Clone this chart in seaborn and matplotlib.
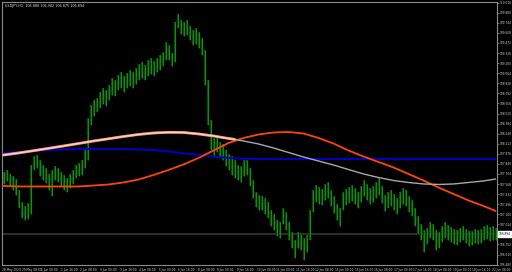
import numpy as np
import matplotlib
matplotlib.use("Agg")
import matplotlib.pyplot as plt
import matplotlib.transforms as mtransforms
import seaborn as sns

# ---------------- data ----------------
symbol = "USDJPY,H1"
ohlc_last = ["106.880", "106.902", "106.875", "106.894"]
last_price = 106.894

bar_high = [
    107.731, 107.758, 107.704, 107.677, 107.636, 107.488, 107.326, 107.272, 107.312, 107.825,
    107.947, 107.960, 107.893, 107.825, 107.785, 107.704, 107.758, 107.812, 107.785, 107.731,
    107.690, 107.650, 107.704, 107.758, 107.825, 107.852, 107.893, 108.028, 108.460, 108.635,
    108.703, 108.730, 108.811, 108.865, 108.838, 108.905, 109.000, 108.973, 109.040, 109.081,
    109.027, 109.067, 109.108, 109.081, 109.135, 109.189, 109.216, 109.175, 109.243, 109.270,
    109.229, 109.270, 109.310, 109.351, 109.486, 109.445, 109.337, 109.756, 109.864, 109.783,
    109.756, 109.783, 109.702, 109.648, 109.675, 109.621, 109.540, 109.378, 108.973, 108.433,
    108.190, 108.217, 108.136, 108.109, 108.028, 107.974, 107.947, 107.893, 107.825, 107.812,
    107.893, 107.893, 107.785, 107.623, 107.461, 107.420, 107.407, 107.380, 107.326, 107.218,
    107.164, 107.083, 107.056, 107.245, 107.191, 107.056, 106.921, 106.813, 106.921, 106.894,
    106.840, 106.880, 107.218, 107.488, 107.555, 107.528, 107.501, 107.569, 107.596, 107.488,
    107.407, 107.299, 107.245, 107.461, 107.501, 107.528, 107.555, 107.515, 107.461, 107.542,
    107.623, 107.569, 107.515, 107.542, 107.596, 107.650, 107.542, 107.420, 107.461, 107.488,
    107.434, 107.380, 107.461, 107.515, 107.488, 107.407, 107.353, 107.245, 107.137, 107.029,
    106.948, 106.975, 107.056, 107.029, 106.948, 106.921, 107.002, 107.056, 107.015, 106.988,
    106.961, 106.948, 106.975, 107.002, 106.961, 106.934, 106.934, 106.961, 106.948, 106.961,
    107.002, 107.015, 106.988, 107.002, 106.975,
]
bar_low = [
    107.569, 107.609, 107.542, 107.488, 107.420, 107.245, 107.110, 107.083, 107.096, 107.164,
    107.758, 107.785, 107.677, 107.623, 107.582, 107.488, 107.407, 107.623, 107.596, 107.542,
    107.488, 107.461, 107.515, 107.569, 107.650, 107.677, 107.690, 107.785, 107.893, 108.365,
    108.487, 108.541, 108.595, 108.649, 108.622, 108.703, 108.770, 108.757, 108.838, 108.865,
    108.811, 108.865, 108.892, 108.865, 108.919, 108.973, 109.000, 108.973, 109.027, 109.054,
    109.027, 109.081, 109.108, 109.162, 109.243, 109.243, 109.162, 109.216, 109.675, 109.594,
    109.567, 109.580, 109.513, 109.445, 109.459, 109.405, 109.310, 108.905, 108.365, 108.028,
    107.947, 108.001, 107.933, 107.893, 107.812, 107.758, 107.690, 107.650, 107.623, 107.596,
    107.677, 107.690, 107.542, 107.380, 107.258, 107.218, 107.218, 107.164, 107.110, 107.002,
    106.948, 106.867, 106.840, 107.029, 106.948, 106.813, 106.705, 106.570, 106.705, 106.678,
    106.543, 106.651, 106.813, 107.191, 107.326, 107.299, 107.285, 107.353, 107.380, 107.272,
    107.177, 107.083, 107.002, 107.218, 107.285, 107.312, 107.339, 107.299, 107.245, 107.326,
    107.407, 107.353, 107.299, 107.326, 107.380, 107.420, 107.312, 107.204, 107.245, 107.272,
    107.218, 107.164, 107.245, 107.299, 107.272, 107.191, 107.137, 107.002, 106.907, 106.813,
    106.651, 106.759, 106.840, 106.813, 106.678, 106.705, 106.786, 106.840, 106.813, 106.786,
    106.759, 106.745, 106.786, 106.813, 106.772, 106.732, 106.745, 106.772, 106.759, 106.772,
    106.813, 106.826, 106.799, 106.813, 106.813,
]

ind_idx = [0, 5, 10, 15, 20, 25, 30, 35, 40, 45, 50, 55, 60, 65, 70, 75, 80, 85, 90, 95,
           100, 105, 110, 115, 120, 125, 130, 135, 140, 145, 150, 155, 160, 164]
blue_ma = [107.987, 108.001, 108.014, 108.028, 108.034, 108.041, 108.041, 108.041, 108.041, 108.034,
           108.028, 108.007, 107.983, 107.960, 107.937, 107.920, 107.910, 107.906, 107.906, 107.906,
           107.906, 107.906, 107.906, 107.906, 107.906, 107.906, 107.906, 107.906, 107.906, 107.906,
           107.906, 107.906, 107.906, 107.906]
orange_ma = [107.542, 107.535, 107.535, 107.535, 107.535, 107.535, 107.548, 107.562, 107.589, 107.629,
             107.690, 107.758, 107.832, 107.920, 108.021, 108.122, 108.190, 108.237, 108.264, 108.271,
             108.250, 108.190, 108.115, 108.021, 107.940, 107.866, 107.791, 107.704, 107.616, 107.521,
             107.434, 107.346, 107.272, 107.204]

slow_idx = [0, 5, 10, 15, 20, 25, 30, 35, 40, 45, 50, 55, 60, 65, 70, 75, 77, 80, 85, 90, 95,
            100, 105, 110, 115, 120, 125, 130, 135, 140, 145, 150, 155, 160, 164]
slow_ma = [107.960, 107.987, 108.018, 108.050, 108.082, 108.115, 108.149, 108.179, 108.210, 108.237,
           108.257, 108.266, 108.264, 108.244, 108.217, 108.183, 108.172, 108.149, 108.109, 108.055,
           107.994, 107.933, 107.879, 107.825, 107.764, 107.704, 107.656, 107.616, 107.589, 107.569,
           107.562, 107.569, 107.589, 107.609, 107.636]
slow_color_change = 77   # bar index where the curve turns from salmon to grey

price_labels = ["110.016", "109.880", "109.744", "109.608", "109.472", "109.336", "109.200",
                "109.064", "108.928", "108.792", "108.656", "108.520", "108.384", "108.248",
                "108.112", "107.976", "107.840", "107.704", "107.568", "107.432", "107.296",
                "107.160", "107.024", "106.888", "106.752", "106.616", "106.480"]
date_labels = ["28 May 2020", "29 May 08:00", "1 Jun 00:00", "1 Jun 16:00", "2 Jun 08:00",
               "3 Jun 00:00", "3 Jun 16:00", "4 Jun 08:00", "5 Jun 00:00", "5 Jun 16:00",
               "8 Jun 08:00", "9 Jun 00:00", "9 Jun 16:00", "10 Jun 08:00", "11 Jun 00:00",
               "11 Jun 16:00", "12 Jun 08:00", "15 Jun 00:00", "15 Jun 16:00", "16 Jun 08:00",
               "17 Jun 00:00", "17 Jun 16:00", "18 Jun 08:00", "19 Jun 00:00", "19 Jun 16:00",
               "22 Jun 08:00"]

# ---------------- style ----------------
sns.set_style("dark", {"axes.facecolor": "black", "figure.facecolor": "black"})
plt.rcParams["font.family"] = ["Liberation Sans Narrow", "DejaVu Sans"]

W, H = 512, 272
fig = plt.figure(figsize=(W / 100, H / 100), dpi=100, facecolor="black")
ax = fig.add_axes([2 / W, 7 / H, 495 / W, 263 / H])
ax.set_facecolor("black")

n = len(bar_high)
x = np.arange(n)

# price bars
ax.vlines(x, bar_low, bar_high, color="#005200", linewidth=1.6, zorder=2)
ax.vlines(x, bar_low, bar_high, color="#1c9c1c", linewidth=0.55, zorder=3)

# current price line
ax.axhline(last_price, color="#3a3a3a", linewidth=1.1, zorder=1)

# indicators
sns.lineplot(x=ind_idx, y=blue_ma, color="#0000c8", linewidth=1.4, ax=ax, zorder=4)
sns.lineplot(x=ind_idx, y=orange_ma, color="#ff4500", linewidth=1.3, ax=ax, zorder=5)
slow_idx_a = np.array(slow_idx)
slow_a = np.array(slow_ma)
m1 = slow_idx_a <= slow_color_change
m2 = slow_idx_a >= slow_color_change
sns.lineplot(x=slow_idx_a[m2], y=slow_a[m2], color="#a8a8a8", linewidth=1.0, ax=ax, zorder=5)
sns.lineplot(x=slow_idx_a[m1], y=slow_a[m1], color="#ff9f80", linewidth=2.0, ax=ax, zorder=6)
sns.lineplot(x=slow_idx_a[m1], y=slow_a[m1], color="#fff0e8", linewidth=0.5, ax=ax, zorder=7)

# axes limits
ax.set_xlim(-0.5, n - 0.5)
ax.set_ylim(106.475, 110.0255)
ax.set_xlabel("")
ax.set_ylabel("")
ax.grid(False)

for s in ax.spines.values():
    s.set_color("#8a8a8a")
    s.set_linewidth(0.8)
    s.set_visible(True)

# price axis on the right
ax.yaxis.tick_right()
ax.set_yticks([float(v) for v in price_labels])
ax.set_yticklabels(price_labels)
ax.tick_params(axis="y", colors="#8a8a8a", labelcolor="#d8d8d8", length=1.2, width=0.5,
               labelsize=2.1, pad=0.4, direction="out")

# time axis
tick_pos = np.arange(len(date_labels)) * 6.53 - 0.5
ax.set_xticks(tick_pos)
ax.set_xticklabels(date_labels, ha="left")
ax.tick_params(axis="x", colors="#8a8a8a", labelcolor="#d8d8d8", length=2.0, width=0.5,
               labelsize=2.1, pad=0.5, direction="out")

# current price label box
trans = mtransforms.blended_transform_factory(ax.transAxes, ax.transData)
ax.text(1.004, last_price, f"{last_price:.3f}", transform=trans, ha="left", va="center",
        fontsize=2.1, color="black", zorder=10, clip_on=False,
        bbox=dict(boxstyle="square,pad=0.3", facecolor="white", edgecolor="white"))

# title
ax.text(0.006, 0.992, symbol + "  " + " ".join(ohlc_last), transform=ax.transAxes,
        ha="left", va="top", fontsize=2.4, color="#e0e0e0", zorder=10)

fig.savefig("out.png", dpi=100, facecolor="black")
